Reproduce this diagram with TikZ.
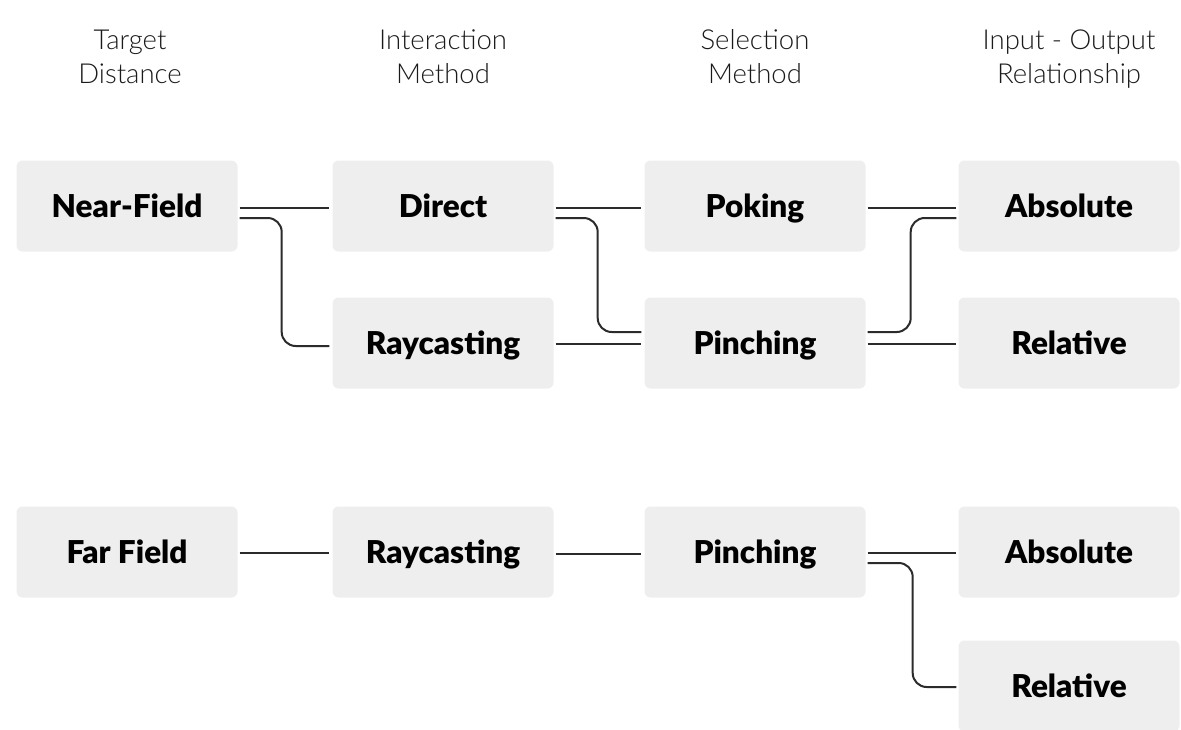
\documentclass[tikz,border=0pt]{standalone}
\usepackage{fontspec}
\newfontfamily\hdrfont{Lato Light}
\newfontfamily\lblfont{Lato Black}
\definecolor{boxgray}{HTML}{EEEEEE}
\definecolor{linkgray}{HTML}{2B2B2B}
\definecolor{hdrtext}{HTML}{1A1A1A}
\tikzset{
  stage/.style={fill=boxgray, rounded corners=6pt, minimum width=221pt,
    minimum height=91pt, inner sep=0pt, text=black,
    text height=22.5pt, text depth=0pt,
    font=\lblfont\fontsize{31.5}{36}\selectfont},
  colhead/.style={align=center, text=hdrtext, inner sep=0pt,
    font=\hdrfont\fontsize{27.5}{34}\selectfont},
  link/.style={draw=linkgray, line width=2pt, rounded corners=14pt}
}
\begin{document}
\begin{tikzpicture}[x=1pt, y=-1pt]
\useasboundingbox (0,0) rectangle (1181,729);

% column headings (struts keep every heading the same height)
\node[colhead] (h1) at (130,60) {\strut Target\\\strut Distance};
\node[colhead] (h2) at (443,60) {\strut Interaction\\\strut Method};
\node[colhead] (h3) at (755,60) {\strut Selection\\\strut Method};
\node[colhead] (h4) at (1069,60) {\strut Input - Output\\\strut Relationship};

% near-field chain
\node[stage] (nf)  at (127,206) {Near-Field};
\node[stage] (di)  at (443,206) {Direct};
\node[stage] (po)  at (755,206) {Poking};
\node[stage] (ab1) at (1069,206) {Absolute};
\node[stage] (rc1) at (443,343) {Raycasting};
\node[stage] (pi1) at (755,343) {Pinching};
\node[stage] (re1) at (1069,343) {Relative};

% far-field chain
\node[stage] (ff)  at (127,552) {Far Field};
\node[stage] (rc2) at (443,552) {Raycasting};
\node[stage] (pi2) at (755,552) {Pinching};
\node[stage] (ab2) at (1069,552) {Absolute};
\node[stage] (re2) at (1069,686) {Relative};

% near-field connectors
\draw[link] ([shift={(2pt,-2pt)}]nf.east) -- ([shift={(-3pt,-2pt)}]di.west);
\draw[link] ([shift={(2pt,-12pt)}]nf.east) -- ++(42pt,0pt)
  |- ([shift={(-3pt,-3pt)}]rc1.west);
\draw[link] ([shift={(2pt,-2pt)}]di.east) -- ([shift={(-3pt,-2pt)}]po.west);
\draw[link] ([shift={(2pt,-12pt)}]di.east) -- ++(42pt,0pt)
  |- ([shift={(-3pt,11pt)}]pi1.west);
\draw[link] ([shift={(2pt,-1pt)}]rc1.east) -- ([shift={(-3pt,-1pt)}]pi1.west);
\draw[link] ([shift={(2pt,-2pt)}]po.east) -- ([shift={(-2pt,-2pt)}]ab1.west);
\draw[link] ([shift={(2pt,11pt)}]pi1.east) -- ++(43pt,0pt)
  |- ([shift={(-2pt,-12pt)}]ab1.west);
\draw[link] ([shift={(2pt,-1pt)}]pi1.east) -- ([shift={(-2pt,-1pt)}]re1.west);

% far-field connectors
\draw[link] ([shift={(2pt,-1pt)}]ff.east) -- ([shift={(-3pt,-1pt)}]rc2.west);
\draw[link] ([shift={(2pt,-2pt)}]rc2.east) -- ([shift={(-3pt,-2pt)}]pi2.west);
\draw[link] ([shift={(2pt,-1pt)}]pi2.east) -- ([shift={(-2pt,-1pt)}]ab2.west);
\draw[link] ([shift={(2pt,-11pt)}]pi2.east) -- ++(45pt,0pt)
  |- ([shift={(-2pt,-1pt)}]re2.west);
\end{tikzpicture}
\end{document}
